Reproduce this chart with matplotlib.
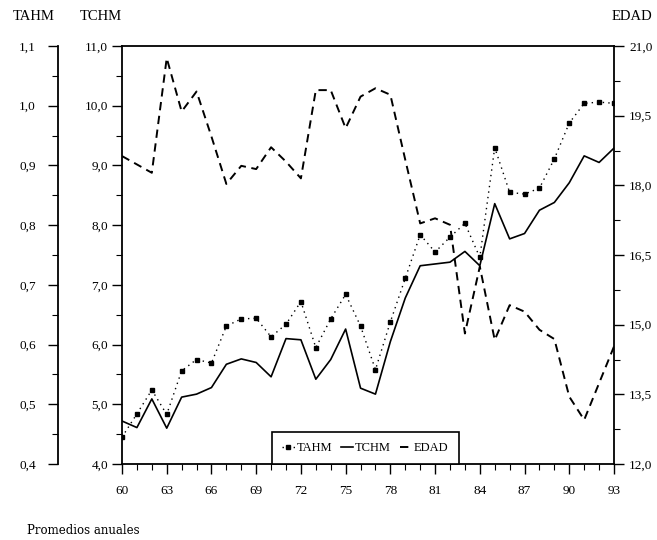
import matplotlib
matplotlib.use("Agg")
import matplotlib.pyplot as plt
from matplotlib.ticker import MultipleLocator, FuncFormatter

# años (19xx) y promedios anuales
years = list(range(60, 94))
tahm = [0.445, 0.484, 0.524, 0.483, 0.556, 0.575, 0.569, 0.631, 0.643, 0.644,
        0.613, 0.634, 0.672, 0.595, 0.643, 0.684, 0.631, 0.558, 0.638, 0.711,
        0.784, 0.755, 0.780, 0.803, 0.746, 0.930, 0.855, 0.852, 0.862, 0.911,
        0.971, 1.004, 1.006, 1.004]
tchm = [4.72, 4.61, 5.09, 4.60, 5.12, 5.17, 5.28, 5.67, 5.76, 5.70,
        5.46, 6.10, 6.08, 5.42, 5.75, 6.26, 5.27, 5.17, 6.05, 6.78,
        7.32, 7.35, 7.38, 7.56, 7.32, 8.36, 7.77, 7.86, 8.25, 8.38,
        8.71, 9.16, 9.05, 9.29]
edad = [18.63, 18.45, 18.27, 20.74, 19.59, 20.02, 19.05, 18.03, 18.42, 18.35,
        18.82, 18.51, 18.15, 20.05, 20.05, 19.23, 19.91, 20.09, 19.95, 18.55,
        17.18, 17.29, 17.15, 14.81, 16.25, 14.67, 15.42, 15.28, 14.89, 14.69,
        13.45, 12.95, 13.74, 14.53]

plt.rcParams['font.family'] = ['Liberation Serif', 'DejaVu Serif']
plt.rcParams['font.size'] = 9.5
plt.rcParams['lines.scale_dashes'] = False

coma = FuncFormatter(lambda v, p: f"{v:.1f}".replace('.', ','))

fig = plt.figure(figsize=(6.57, 5.4), dpi=100)
ax = fig.add_axes([122/657, 1 - 464/540, 492/657, 418/540])
ax_a = ax.twinx()
ax_e = ax.twinx()

l_tahm, = ax_a.plot(years, tahm, color='black', lw=1.0, linestyle=(0, (1, 3)),
                    marker='s', markersize=3.5, label='TAHM')
l_tchm, = ax.plot(years, tchm, color='black', lw=1.2, label='TCHM')
l_edad, = ax_e.plot(years, edad, color='black', lw=1.4, linestyle=(0, (6, 4)),
                    label='EDAD')

ax.set_xlim(60, 93)
ax.set_ylim(4, 11)
ax_a.set_ylim(0.4, 1.1)
ax_e.set_ylim(12, 21)

ax.xaxis.set_major_locator(MultipleLocator(3))
ax.xaxis.set_minor_locator(MultipleLocator(1))
ax.yaxis.set_major_locator(MultipleLocator(1))
ax.yaxis.set_minor_locator(MultipleLocator(0.5))
ax.yaxis.set_major_formatter(coma)
ax_a.yaxis.set_major_locator(MultipleLocator(0.1))
ax_a.yaxis.set_minor_locator(MultipleLocator(0.05))
ax_a.yaxis.set_major_formatter(coma)
ax_e.yaxis.set_major_locator(MultipleLocator(1.5))
ax_e.yaxis.set_minor_locator(MultipleLocator(0.75))
ax_e.yaxis.set_major_formatter(coma)

# eje TAHM desplazado a la izquierda
ax_a.spines['left'].set_position(('axes', -0.13))
ax_a.spines['left'].set_visible(True)
ax_a.yaxis.set_ticks_position('left')
for s in ['top', 'bottom', 'right']:
    ax_a.spines[s].set_visible(False)
for s in ['top', 'bottom', 'left']:
    ax_e.spines[s].set_visible(False)
ax.spines['right'].set_visible(False)

for a in (ax, ax_a, ax_e):
    for s in a.spines.values():
        s.set_linewidth(1.3)
    a.tick_params(which='major', direction='out', length=7, width=1.0)
    a.tick_params(which='minor', direction='out', length=4.5, width=0.8)
ax.tick_params(axis='y', pad=3)
ax.tick_params(axis='x', pad=8)
ax_a.tick_params(axis='y', pad=9)
ax_e.tick_params(axis='y', pad=4)

leg = ax_e.legend(handles=[l_tahm, l_tchm, l_edad], ncol=3, loc='lower left',
                  bbox_to_anchor=(0.305, 0.0), borderaxespad=0,
                  fancybox=False, framealpha=1, edgecolor='black',
                  handlelength=1.0, handletextpad=0.15, columnspacing=0.7,
                  borderpad=0.8, fontsize=9)
leg.get_frame().set_linewidth(1.2)

fig.text(13/657, 1 - 16/540, 'TAHM', ha='left', va='center', fontsize=10.5)
fig.text(80/657, 1 - 16/540, 'TCHM', ha='left', va='center', fontsize=10.5)
fig.text(612/657, 1 - 16/540, 'EDAD', ha='left', va='center', fontsize=10.5)
fig.text(27/657, 1 - 531/540, 'Promedios anuales', ha='left', va='center',
         fontsize=8.5, family='DejaVu Serif')

fig.savefig('out.png', dpi=100)
